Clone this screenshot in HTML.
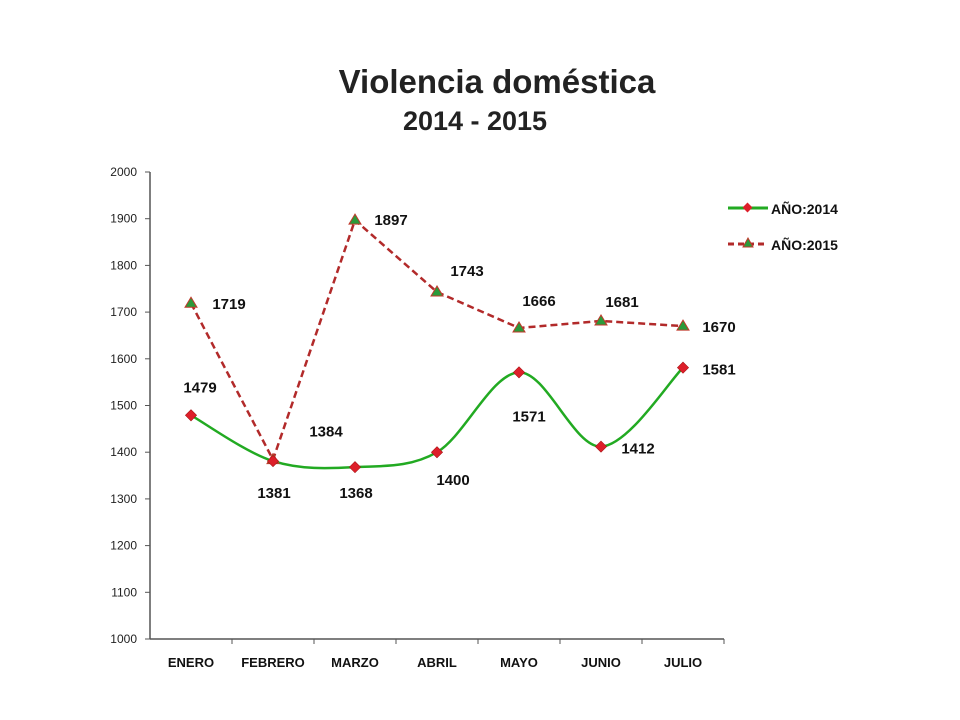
<!DOCTYPE html>
<html><head><meta charset="utf-8"><style>
html,body{margin:0;padding:0;background:#fff;width:960px;height:720px;overflow:hidden}
svg text{font-family:"Liberation Sans",Arial,sans-serif}
</style></head><body>
<svg id="chart" width="960" height="720" xmlns="http://www.w3.org/2000/svg">
<text x="497" y="93" text-anchor="middle" font-size="33" font-weight="bold" fill="#222">Violencia doméstica</text>
<text x="475" y="130" text-anchor="middle" font-size="27" font-weight="bold" fill="#222">2014 - 2015</text>
<g id="axes"></g>
<g id="series"></g>
<g>
 <g>
  <line x1="728" y1="208" x2="768" y2="208" stroke="#22aa22" stroke-width="3"/>
  <rect x="744" y="204" width="7" height="7" fill="#dd1f2a" transform="rotate(45 747.5 207.5)"/>
  <text x="771" y="214" font-size="14" font-weight="bold" fill="#111">AÑO:2014</text>
 </g>
 <g>
  <line x1="728" y1="244" x2="768" y2="244" stroke="#b22a2a" stroke-width="3" stroke-dasharray="6,4"/>
  <polygon points="748,238 743,247 753,247" fill="#2a9a3a" stroke="#c0392b" stroke-width="1"/>
  <text x="771" y="250" font-size="14" font-weight="bold" fill="#111">AÑO:2015</text>
 </g>
</g>
</svg>
<script>
const categories=["ENERO","FEBRERO","MARZO","ABRIL","MAYO","JUNIO","JULIO"];
const values2014=[1479,1381,1368,1400,1571,1412,1581];
const values2015=[1719,1384,1897,1743,1666,1681,1670];
const yTicks=[1000,1100,1200,1300,1400,1500,1600,1700,1800,1900,2000];
const labelOff2014=[[9,-28],[1,32],[1,26],[16,28],[10,44],[37,2],[36,2]];
const labelOff2015=[[38,1],[53,-28],[36,0],[30,-21],[20,-27],[21,-19],[36,1]];
const NS="http://www.w3.org/2000/svg";
const X0=150,X1=724,Y0=639,Y1=172,YMIN=1000,YMAX=2000;
const step=(X1-X0)/categories.length;
function xs(i){return X0+step*(i+0.5);}
function ys(v){return Y0-(v-YMIN)/(YMAX-YMIN)*(Y0-Y1);}
function mk(tag,attrs,parent){const e=document.createElementNS(NS,tag);for(const k in attrs)e.setAttribute(k,attrs[k]);parent.appendChild(e);return e;}
const axes=document.getElementById('axes'),ser=document.getElementById('series');
let yl=mk('line',{x1:X0,y1:Y1,x2:X0,y2:Y0,stroke:'#555','stroke-width':1.5},axes);


let xl=mk('line',{x1:X0,y1:Y0,x2:X1,y2:Y0,stroke:'#555','stroke-width':1.5},axes);


yTicks.forEach(t=>{
 mk('line',{x1:X0-5,y1:ys(t),x2:X0,y2:ys(t),stroke:'#555'},axes);
 const tx=mk('text',{x:X0-13,y:ys(t)+4,'text-anchor':'end','font-size':12,fill:'#222'},axes);
 tx.textContent=t;
 
 
});
categories.forEach((c,i)=>{
 mk('line',{x1:X0+step*(i+1),y1:Y0,x2:X0+step*(i+1),y2:Y0+5,stroke:'#555'},axes);
 const tx=mk('text',{x:xs(i),y:Y0+28,'text-anchor':'middle','font-size':13,'font-weight':'bold',fill:'#111'},axes);
 tx.textContent=c;
 
 
});
function smooth(pts){let d=`M${pts[0][0]},${pts[0][1]}`;for(let i=0;i<pts.length-1;i++){const p0=pts[i-1]||pts[i],p1=pts[i],p2=pts[i+1],p3=pts[i+2]||p2;const t=6;d+=` C${p1[0]+(p2[0]-p0[0])/t},${p1[1]+(p2[1]-p0[1])/t} ${p2[0]-(p3[0]-p1[0])/t},${p2[1]-(p3[1]-p1[1])/t} ${p2[0]},${p2[1]}`;}return d;}
const p15=values2015.map((v,i)=>[xs(i),ys(v)]);
const l15=mk('polyline',{points:p15.map(p=>p.join(',')).join(' '),fill:'none',stroke:'#b22a2a','stroke-width':2.5,'stroke-dasharray':'7,4'},ser);


const p14=values2014.map((v,i)=>[xs(i),ys(v)]);
const l14=mk('path',{d:smooth(p14),fill:'none',stroke:'#22aa22','stroke-width':2.5},ser);


p15.forEach((p,i)=>{
 const m=mk('polygon',{points:`${p[0]},${p[1]-6} ${p[0]-6},${p[1]+4} ${p[0]+6},${p[1]+4}`,fill:'#2a9a3a',stroke:'#c0392b','stroke-width':1},ser);
 
 
 const t=mk('text',{x:p[0]+labelOff2015[i][0],y:p[1]+labelOff2015[i][1]+5,'text-anchor':'middle','font-size':15,'font-weight':'bold',fill:'#111'},ser);
 t.textContent=values2015[i];
 
 
});
p14.forEach((p,i)=>{
 const m=mk('rect',{x:p[0]-4,y:p[1]-4,width:8,height:8,fill:'#dd1f2a',stroke:'#a01010','stroke-width':0.5,transform:`rotate(45 ${p[0]} ${p[1]})`},ser);
 
 
 const t=mk('text',{x:p[0]+labelOff2014[i][0],y:p[1]+labelOff2014[i][1]+5,'text-anchor':'middle','font-size':15,'font-weight':'bold',fill:'#111'},ser);
 t.textContent=values2014[i];
 
 
});
</script>
</body></html>
